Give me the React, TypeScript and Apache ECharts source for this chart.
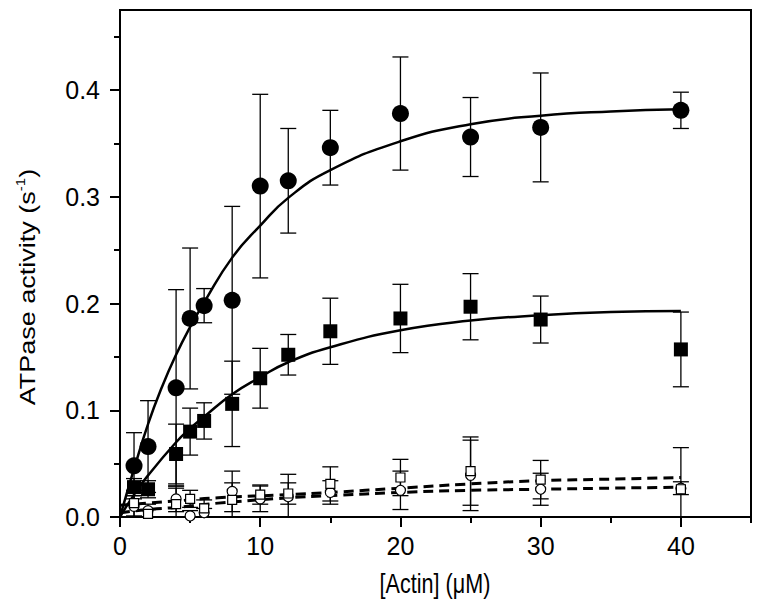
import React, { useEffect, useRef } from "react";
import * as echarts from "echarts";

// Actin concentrations (µM)
const actin = [1, 2, 4, 5, 6, 8, 10, 12, 15, 20, 25, 30, 40];

// Filled circles
const filledCircle = [0.048, 0.066, 0.121, 0.186, 0.198, 0.203, 0.31, 0.315, 0.346, 0.378, 0.356, 0.365, 0.381];
const filledCircleErr = [0.031, 0.043, 0.092, 0.066, 0.016, 0.088, 0.086, 0.049, 0.035, 0.053, 0.037, 0.051, 0.017];

// Filled squares
const filledSquare = [0.028, 0.026, 0.059, 0.08, 0.09, 0.106, 0.13, 0.152, 0.174, 0.186, 0.197, 0.185, 0.157];
const filledSquareErr = [0.008, 0.008, 0.028, 0.022, 0.017, 0.04, 0.028, 0.019, 0.031, 0.032, 0.031, 0.022, 0.035];

// Open squares
const openSquare = [0.013, 0.003, 0.012, 0.017, 0.008, 0.016, 0.021, 0.022, 0.031, 0.037, 0.043, 0.035, 0.026];
const openSquareErr = [0.012, 0.004, 0.015, 0.008, 0.008, 0.016, 0.009, 0.01, 0.016, 0.017, 0.032, 0.018, 0.039];

// Open circles
const openCircle = [0.01, 0.006, 0.017, 0.001, 0.004, 0.024, 0.017, 0.019, 0.023, 0.025, 0.039, 0.026, 0.027];
const openCircleErr = [0.01, 0.006, 0.012, 0.005, 0.004, 0.019, 0.012, 0.021, 0.011, 0.018, 0.033, 0.015, 0.006];

// Fitted curves
const fitCircleX = [0, 1, 2, 3, 4, 5, 6, 8, 10, 12, 15, 20, 25, 30, 35, 40];
const fitCircleY = [0, 0.045, 0.087, 0.122, 0.152, 0.178, 0.201, 0.243, 0.273, 0.299, 0.325, 0.352, 0.368, 0.376, 0.38, 0.382];
const fitSquareX = [0, 1, 2, 4, 5, 6, 8, 10, 12, 15, 20, 25, 30, 35, 40];
const fitSquareY = [0, 0.021, 0.039, 0.07, 0.083, 0.094, 0.115, 0.131, 0.145, 0.159, 0.175, 0.184, 0.189, 0.192, 0.193];
const fitOpenSquareX = [0, 2, 4, 7, 12, 15, 20, 25, 30, 35, 40];
const fitOpenSquareY = [0.011, 0.013, 0.015, 0.018, 0.021, 0.023, 0.027, 0.031, 0.034, 0.0355, 0.037];
const fitOpenCircleX = [0, 2, 4, 7, 12, 15, 20, 25, 30, 35, 40];
const fitOpenCircleY = [0.004, 0.007, 0.009, 0.013, 0.018, 0.02, 0.023, 0.025, 0.026, 0.027, 0.028];

const xMajorTicks = [0, 10, 20, 30, 40];
const xMinorTicks = [5, 15, 25, 35, 45];
const yMajorTicks = [0, 0.1, 0.2, 0.3, 0.4];
const yMinorTicks = [0.05, 0.15, 0.25, 0.35, 0.45];

const xTitle = "[Actin] (\u03bcM)";
const yTitleMain = "ATPase activity (s";
const yTitleSup = "-1";

const SANS = "'Liberation Sans', Arial, sans-serif";

const pairs = (xs: number[], ys: number[]) => xs.map((x, i) => [x, ys[i]]);

const errData = (vals: number[], errs: number[]) =>
  actin.map((x, i) => [x, vals[i] - errs[i], vals[i] + errs[i]]);

const errorBarSeries = (vals: number[], errs: number[]) => ({
  type: "custom",
  data: errData(vals, errs),
  z: 1,
  silent: true,
  renderItem: (params: any, api: any) => {
    const x = api.value(0);
    const loV = api.value(1);
    const hiV = api.value(2);
    const clipped = loV < 0;
    const lo = api.coord([x, Math.max(0, loV)]);
    const hi = api.coord([x, hiV]);
    const hw = 8;
    const style = { stroke: "#000", lineWidth: 1.3 };
    const children: any[] = [
      { type: "line", shape: { x1: lo[0], y1: lo[1], x2: hi[0], y2: hi[1] }, style },
      { type: "line", shape: { x1: hi[0] - hw, y1: hi[1], x2: hi[0] + hw, y2: hi[1] }, style },
    ];
    if (!clipped) {
      children.push({ type: "line", shape: { x1: lo[0] - hw, y1: lo[1], x2: lo[0] + hw, y2: lo[1] }, style });
    }
    return { type: "group", children };
  },
});

const fitSeries = (xs: number[], ys: number[], dashed: boolean) => ({
  type: "line",
  data: pairs(xs, ys),
  smooth: true,
  showSymbol: false,
  symbol: "none",
  z: 2,
  silent: true,
  lineStyle: dashed
    ? { color: "#000", width: 3, type: [10, 6], opacity: 1 }
    : { color: "#000", width: 2.5, opacity: 1 },
});

const markerSeries = (vals: number[], symbol: string, size: number, open: boolean) => ({
  type: "scatter",
  data: pairs(actin, vals),
  symbol,
  symbolSize: size,
  z: 3,
  itemStyle: open
    ? { color: "#fff", borderColor: "#000", borderWidth: 1.2, opacity: 1 }
    : { color: "#000", opacity: 1 },
});

export default function App() {
  const ref = useRef<HTMLDivElement>(null);

  useEffect(() => {
    if (!ref.current) return;
    const chart = echarts.init(ref.current, undefined, { renderer: "svg" });
    const axisText = { color: "#000", fontFamily: SANS, fontSize: 25 };
    chart.setOption({
      animation: false,
      backgroundColor: "#fff",
      grid: {
        left: 120,
        right: 11,
        top: 10,
        bottom: 96,
        show: true,
        borderColor: "#000",
        borderWidth: 2,
        backgroundColor: "transparent",
      },
      xAxis: [
        {
          type: "value",
          min: 0,
          max: 45,
          position: "bottom",
          axisLine: { show: true, onZero: false, lineStyle: { color: "#000", width: 2 } },
          axisTick: { show: true, inside: false, length: 10, lineStyle: { color: "#000", width: 2 }, customValues: xMajorTicks },
          axisLabel: { ...axisText, margin: 16, customValues: xMajorTicks, formatter: (v: number) => String(v) },
          splitLine: { show: false },
        },
        {
          type: "value",
          min: 0,
          max: 45,
          position: "bottom",
          axisLine: { show: false },
          axisTick: { show: true, inside: false, length: 6, lineStyle: { color: "#000", width: 2 }, customValues: xMinorTicks },
          axisLabel: { show: false },
          splitLine: { show: false },
        },
      ],
      yAxis: [
        {
          type: "value",
          min: 0,
          max: 0.475,
          position: "left",
          axisLine: { show: true, onZero: false, lineStyle: { color: "#000", width: 2 } },
          axisTick: { show: true, inside: false, length: 10, lineStyle: { color: "#000", width: 2 }, customValues: yMajorTicks },
          axisLabel: { ...axisText, margin: 20, customValues: yMajorTicks, formatter: (v: number) => v.toFixed(1) },
          splitLine: { show: false },
        },
        {
          type: "value",
          min: 0,
          max: 0.475,
          position: "left",
          axisLine: { show: false },
          axisTick: { show: true, inside: false, length: 6, lineStyle: { color: "#000", width: 2 }, customValues: yMinorTicks },
          axisLabel: { show: false },
          splitLine: { show: false },
        },
      ],
      graphic: [
        {
          type: "text",
          x: 435,
          y: 584,
          scaleX: 0.8,
          style: {
            text: xTitle,
            fontFamily: SANS,
            fontSize: 27,
            align: "center",
            verticalAlign: "middle",
            fill: "#000",
          },
        },
        {
          type: "text",
          x: 27,
          y: 287,
          rotation: Math.PI / 2,
          scaleY: 0.8,
          style: {
            text: `{a|${yTitleMain}}{b|${yTitleSup}}{a|)}`,
            align: "center",
            verticalAlign: "middle",
            fill: "#000",
            rich: {
              a: { fontFamily: SANS, fontSize: 27, fill: "#000", lineHeight: 30 },
              b: { fontFamily: SANS, fontSize: 15, fill: "#000", lineHeight: 30, padding: [0, 0, 14, 0] },
            },
          },
        },
      ],
      series: [
        errorBarSeries(openCircle, openCircleErr),
        errorBarSeries(openSquare, openSquareErr),
        errorBarSeries(filledSquare, filledSquareErr),
        errorBarSeries(filledCircle, filledCircleErr),
        fitSeries(fitOpenSquareX, fitOpenSquareY, true),
        fitSeries(fitOpenCircleX, fitOpenCircleY, true),
        fitSeries(fitSquareX, fitSquareY, false),
        fitSeries(fitCircleX, fitCircleY, false),
        markerSeries(openCircle, "circle", 10, true),
        markerSeries(openSquare, "rect", 9, true),
        markerSeries(filledSquare, "rect", 14, false),
        markerSeries(filledCircle, "circle", 17, false),
      ],
    });
    return () => chart.dispose();
  }, []);

  return (
    <div
      ref={ref}
      style={{ position: "fixed", left: 0, top: 0, width: 762, height: 613, background: "#fff" }}
    />
  );
}
